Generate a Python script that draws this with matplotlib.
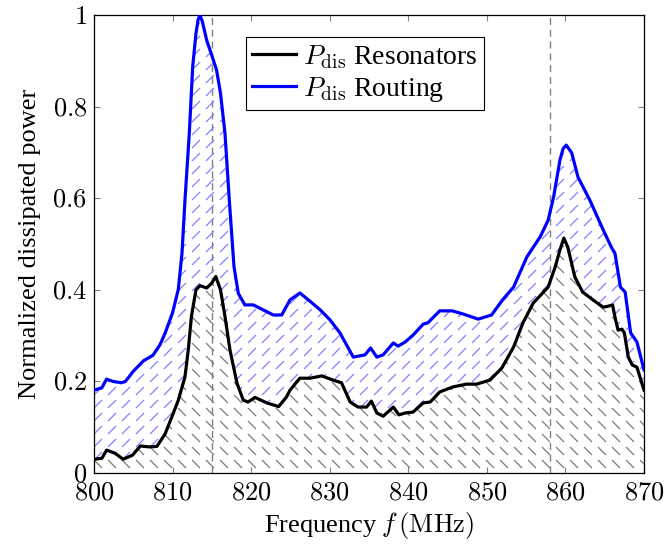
import numpy as np
import matplotlib
matplotlib.use('Agg')
import matplotlib.pyplot as plt
from matplotlib.patches import Polygon
from matplotlib.collections import LineCollection

plt.rcParams['font.family'] = 'serif'
plt.rcParams['font.serif'] = ['Liberation Serif', 'DejaVu Serif']
plt.rcParams['mathtext.fontset'] = 'cm'
plt.rcParams['font.size'] = 19

# Routing losses (blue)
freq_rout = [800, 801, 801.6, 802.4, 803.5, 804, 805, 806.3, 807.5, 808.4, 809.04,
             810.0, 810.73, 811.2, 811.58, 812.13, 812.56, 812.98, 813.25, 813.49,
             813.8, 814.34, 814.97, 815.6, 816.1, 816.67, 817.22, 817.82, 818.37,
             819.2, 820.28, 821.55, 822.82, 823.89, 824.95, 826.2, 827.5, 828.8, 830,
             831.3, 833, 834.5, 835.2, 836, 836.8, 838.1, 838.7, 839.6, 840.6, 841.9,
             842.5, 844, 845.6, 847, 848.9, 850.6, 852, 853.4, 855.1, 856.8, 857.8,
             858.5, 859.3, 859.7, 860.1, 860.8, 861.6, 863.1, 864.8, 865.9, 866.3,
             867, 867.6, 868.3, 869.1, 870]
p_rout = [0.181, 0.186, 0.205, 0.2, 0.197, 0.2, 0.222, 0.245, 0.257, 0.28, 0.305,
          0.35, 0.401, 0.48, 0.596, 0.742, 0.887, 0.96, 0.99, 1.0,
          0.985, 0.945, 0.913, 0.88, 0.829, 0.742, 0.596, 0.45, 0.392,
          0.367, 0.367, 0.356, 0.345, 0.345, 0.378, 0.393, 0.375, 0.356, 0.335,
          0.306, 0.253, 0.258, 0.273, 0.253, 0.258, 0.284, 0.277, 0.286, 0.301, 0.325,
          0.328, 0.354, 0.354, 0.347, 0.336, 0.345, 0.378, 0.406, 0.472, 0.516, 0.552,
          0.603, 0.683, 0.708, 0.716, 0.699, 0.646, 0.596, 0.531, 0.491, 0.48,
          0.406, 0.395, 0.306, 0.286, 0.225]

# Resonator losses (black)
freq_res = [800, 801, 801.6, 802.7, 803.7, 804.9, 805.9, 807, 808, 809.04, 809.9,
            810.73, 811.58, 812.0, 812.4, 812.98, 813.49, 814.34, 814.97, 815.5,
            816.1, 816.67, 817.3, 818.2, 819.0, 819.6, 820.5, 822, 823.5, 824.5,
            824.95, 826.2, 827.5, 829, 830.4, 831.5, 832.6, 833.6, 834.7, 835.3, 836,
            836.8, 838.1, 838.8, 839.6, 840.6, 841.9, 842.8, 844, 845.7, 847.4, 848.7,
            850.4, 851.9, 853.4, 854.6, 855.9, 857.8, 858.7, 859.3, 859.8, 860.3,
            861.2, 862.2, 863.5, 864.8, 865.4, 866, 866.3, 866.7, 867.2, 867.5, 868,
            868.5, 869.1, 870]
p_res = [0.03, 0.032, 0.05, 0.043, 0.03, 0.039, 0.059, 0.057, 0.058, 0.085, 0.122,
         0.159, 0.21, 0.269, 0.342, 0.4, 0.409, 0.404, 0.414, 0.429,
         0.4, 0.342, 0.269, 0.196, 0.159, 0.155, 0.165, 0.153, 0.145, 0.166,
         0.181, 0.207, 0.207, 0.212, 0.203, 0.197, 0.155, 0.144, 0.144, 0.157, 0.131,
         0.124, 0.144, 0.127, 0.131, 0.133, 0.153, 0.155, 0.177, 0.188, 0.194, 0.194,
         0.203, 0.229, 0.275, 0.328, 0.371, 0.406, 0.45, 0.487, 0.513, 0.493,
         0.428, 0.395, 0.378, 0.362, 0.364, 0.367, 0.341, 0.312, 0.314, 0.306, 0.253,
         0.236, 0.231, 0.181]

markers = [815, 858]
xticks = [800, 810, 820, 830, 840, 850, 860, 870]
yticks = [0, 0.2, 0.4, 0.6, 0.8, 1]
ytick_labels = ['0', '0.2', '0.4', '0.6', '0.8', '1']


def hatch(ax, poly_xy, color, slope, dx=14, dy=13, seg=8, lw=0.9):
    # pgfplots-like pattern of short dashes, clipped to the polygon
    patch = Polygon(poly_xy, closed=True, facecolor='none', edgecolor='none',
                    transform=ax.transData)
    ax.add_patch(patch)
    bb = ax.bbox
    inv = ax.transData.inverted()
    segs = []
    for cx in np.arange(bb.x0 - dx, bb.x1 + dx, dx):
        for cy in np.arange(bb.y0 - dy, bb.y1 + dy, dy):
            p = inv.transform([(cx, cy), (cx + seg, cy + slope * seg)])
            segs.append(p)
    lc = LineCollection(segs, colors=color, linewidths=lw)
    ax.add_collection(lc, autolim=False)
    lc.set_clip_path(patch)


fig = plt.figure(figsize=(6.66, 5.48), dpi=100)
ax = fig.add_axes([94 / 666, 75 / 548, 550 / 666, 458 / 548])
ax.set_xlim(800, 870)
ax.set_ylim(0, 1)

under_res = list(zip(freq_res, p_res)) + [(870, 0), (800, 0)]
between = list(zip(freq_rout, p_rout)) + list(zip(freq_res[::-1], p_res[::-1]))
hatch(ax, under_res, '#7a7a7a', -1)
hatch(ax, between, '#8080ff', 1)

for m in markers:
    ax.axvline(m, color='#808080', lw=1.0, ls=(0, (5, 3.5)), zorder=1)

ax.plot(freq_res, p_res, color='black', lw=2.3, label=r'$P_\mathrm{dis}$ Resonators',
        solid_joinstyle='round', zorder=3)
ax.plot(freq_rout, p_rout, color='#0000ff', lw=2.3, label=r'$P_\mathrm{dis}$ Routing',
        solid_joinstyle='round', zorder=3)

ax.set_xticks(xticks)
ax.set_xticklabels(['$%d$' % t for t in xticks])
ax.set_yticks(yticks)
ax.set_yticklabels(['$%s$' % t for t in ytick_labels])
ax.tick_params(direction='in', length=4, width=0.8, color='#808080',
               top=True, right=True)
ax.tick_params(axis='x', pad=7)
ax.tick_params(axis='y', pad=5)
for s in ax.spines.values():
    s.set_linewidth(0.9)

ax.set_xlabel(r'Frequency $f\,(\mathrm{MHz})$', labelpad=4)
ax.set_ylabel('Normalized dissipated power', labelpad=8)

leg = ax.legend(loc='upper left', bbox_to_anchor=(0.276, 0.952), borderaxespad=0,
                fancybox=False, framealpha=1, edgecolor='black', handlelength=1.6,
                borderpad=0.22, labelspacing=0.15, handletextpad=0.25, fontsize=20)
leg.get_frame().set_linewidth(0.8)

fig.savefig('out.png', dpi=100)
